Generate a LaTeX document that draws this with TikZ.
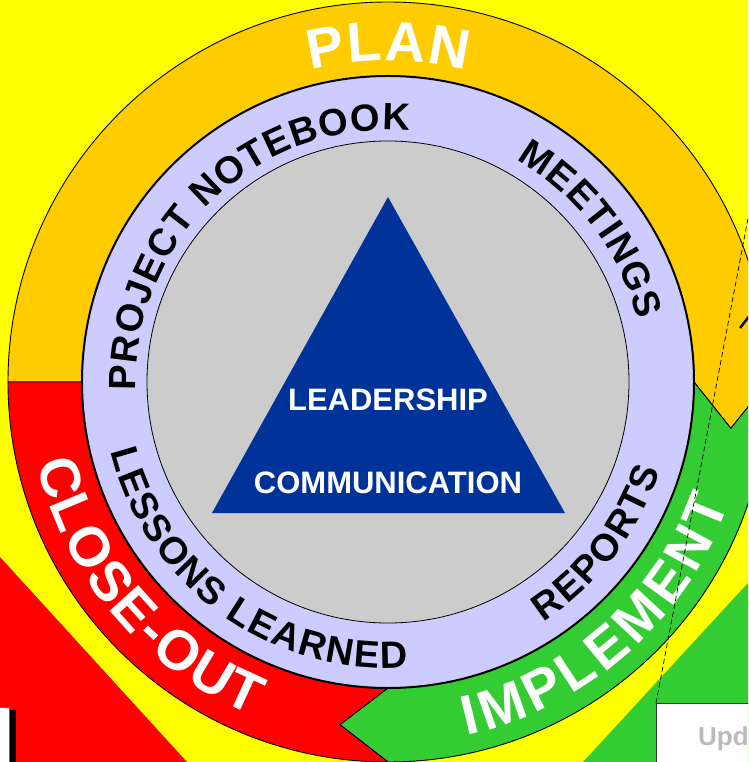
\documentclass[tikz,border=0pt]{standalone}
\usepackage{fontspec}
\setmainfont{Liberation Sans}
\usetikzlibrary{decorations.text}
\definecolor{cyellow}{HTML}{FFFF00}
\definecolor{corange}{HTML}{FFCC00}
\definecolor{cred}{HTML}{FF0000}
\definecolor{cgreen}{HTML}{33CC33}
\definecolor{clilac}{HTML}{CCCCFF}
\definecolor{cgrey}{HTML}{CCCCCC}
\definecolor{cblue}{HTML}{003399}
\definecolor{cpale}{HTML}{BBBBBB}
\newcommand\phasefont{\fontsize{56}{56}\selectfont\bfseries}
\newcommand\toolfont{\fontsize{38}{38}\selectfont\bfseries}
\tikzset{
  every picture/.style={x=1pt, y=1pt},
  phase/.style={fill=#1, draw=black, line width=0.9pt},
  phaseword/.style={decorate, decoration={text along path, text align={fit to path}, text color=white, text={|\phasefont|#1}}},
  toolword/.style={decorate, decoration={text along path, text align={fit to path}, text={|\toolfont|#1}}},
  core/.style={font=\fontsize{31}{31}\selectfont\bfseries, text=white, inner sep=0pt},
  sheet/.style={fill=white, draw=black!60, line width=0.8pt},
}

\begin{document}
\begin{tikzpicture}
  \useasboundingbox (-388,-380) rectangle (360,382);
  \clip (-388,-380) rectangle (360,382);
  \fill[cyellow] (-388,-380) rectangle (360,382);
  % corner bands
  \fill[cred] (-388,-175) -- (-201,-380) -- (-388,-380) -- cycle;
  \fill[cgreen] (360,-201) -- (195,-380) -- (360,-380) -- cycle;
  % outer ring: plan, implement, close-out
  \draw[phase=corange] (180:306) -- (180:380) arc[start angle=180, end angle=0, radius=380]
    -- (-7.7:346) -- (0:306) arc[start angle=0, end angle=180, radius=306] -- cycle;
  \draw[phase=cgreen] (0:380) -- (-7.7:346) -- (0:306) arc[start angle=0, end angle=-90, radius=306]
    -- (-98:346) -- (-90:380) arc[start angle=-90, end angle=0, radius=380] -- cycle;
  \draw[phase=cred] (-90:380) -- (-98:346) -- (-90:306) arc[start angle=-90, end angle=-180, radius=306]
    -- (-180:380) arc[start angle=-180, end angle=-90, radius=380] -- cycle;
  % tool ring and core
  \draw[fill=clilac, line width=2pt] (0,0) circle[radius=306];
  \draw[fill=cgrey, line width=0.8pt] (0,0) circle[radius=241];
  \fill[cblue] (0,185) -- (-176,-131) -- (177,-131) -- cycle;
  \node[core] (lead) at (0,-18) {LEADERSHIP};
  \node[core] (comm) at (0,-101) {COMMUNICATION};
  % words on the rings
  \path[phaseword={PLAN}] (104:321) arc[start angle=104, end angle=76, radius=321];
  \path[phaseword={CLOSE-OUT}] (193:360) arc[start angle=193, end angle=248, radius=360];
  \path[phaseword={IMPLEMENT}] (282.5:362) arc[start angle=282.5, end angle=340.5, radius=362];
  \path[toolword={PROJECT NOTEBOOK}] (182:252) arc[start angle=182, end angle=85, radius=252];
  \path[toolword={MEETINGS}] (60:257) arc[start angle=60, end angle=14, radius=257];
  \path[toolword={LESSONS LEARNED}] (194:286) arc[start angle=194, end angle=274, radius=286];
  \path[toolword={REPORTS}] (303:286) arc[start angle=303, end angle=342, radius=286];
  % edges of the neighbouring slides
  \coordinate (dtop) at (365,190);
  \coordinate (dfoot) at (268,-321);
  \draw[dash pattern=on 5pt off 3pt, line width=0.7pt] (dfoot) -- (dtop);
  \draw[line width=2.5pt] (352,54) -- (366,72);
  \fill[black] (-379,-328) rectangle (-372,-390);
  \draw[sheet] (-400,-325) rectangle (-379,-390);
  \draw[sheet, draw=black!80] (268,-321) rectangle (400,-400);
  \node[anchor=base west, font=\fontsize{26}{26}\selectfont\bfseries, text=cpale, inner sep=0pt] (upd) at (310,-363) {Upd};
\end{tikzpicture}
\end{document}
